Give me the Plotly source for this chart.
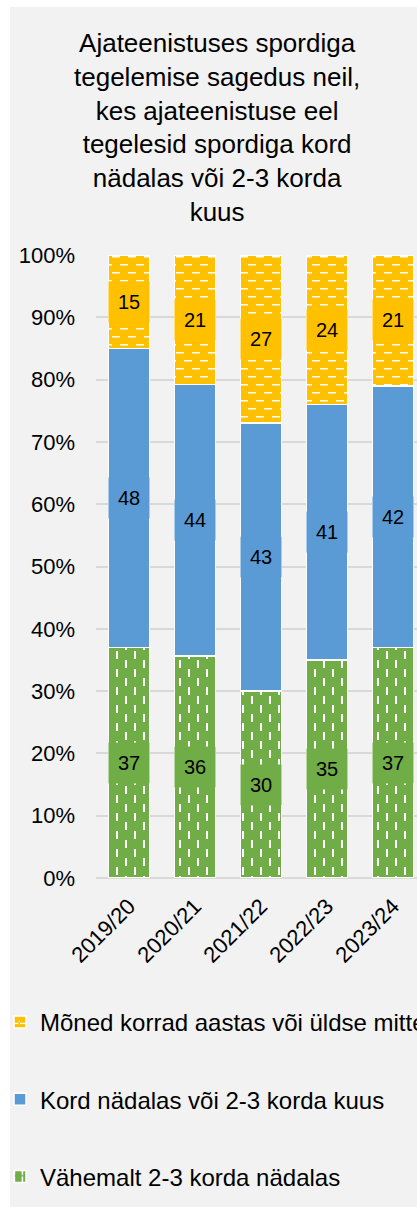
import plotly.graph_objects as go

# ---- data ----
categories = ["2019/20", "2020/21", "2021/22", "2022/23", "2023/24"]
series_names = [
    "Vähemalt 2-3 korda nädalas",
    "Kord nädalas või 2-3 korda kuus",
    "Mõned korrad aastas või üldse mitte",
]
green_vals = [37, 36, 30, 35, 37]
blue_vals = [48, 44, 43, 41, 42]
yellow_vals = [15, 21, 27, 24, 21]
y_ticks = [0, 10, 20, 30, 40, 50, 60, 70, 80, 90, 100]
y_tick_labels = [f"{t}%" for t in y_ticks]

title_text = ("Ajateenistuses spordiga<br>tegelemise sagedus neil,<br>kes ajateenistuse eel"
              "<br>tegelesid spordiga kord<br>nädalas või 2-3 korda<br>kuus")

# ---- style ----
GREEN = "#70AD47"
BLUE = "#5B9BD5"
YELLOW = "#FFC000"
BG = "#F2F2F2"
GRID = "#D9D9D9"
FONT = "Liberation Sans, Arial, sans-serif"

W, H = 417, 1207
ML, MR, MT, MB = 96, 0, 255, 329
PW = W - ML - MR
PH = H - MT - MB


def xp(px):
    return (px - ML) / PW


def yp(py):
    return (H - MB - py) / PH


green_pattern = dict(path="M2,0H4V8H2Z M11,9H13V17H11Z", size=18,
                     fillmode="overlay", fgcolor="white", fgopacity=1)
yellow_pattern = dict(path="M0,1H8V2.6H0Z M8,9H16V10.6H8Z", size=16,
                      fillmode="overlay", fgcolor="white", fgopacity=1)

all_vals = [green_vals, blue_vals, yellow_vals]
colors = [GREEN, BLUE, YELLOW]
patterns = [green_pattern, None, yellow_pattern]
ranks = [3, 2, 1]

fig = go.Figure()
for name, vals, col, pat, rk in zip(series_names, all_vals, colors, patterns, ranks):
    marker = dict(color=col, line=dict(color="white", width=1.5))
    if pat is not None:
        marker["pattern"] = pat
    fig.add_trace(go.Bar(
        x=categories, y=vals, name=name, marker=marker,
        legendgroup=name, legendrank=rk, hoverinfo="skip",
    ))

# data labels with series-coloured background boxes
totals = [sum(t) for t in zip(*all_vals)]
annotations = []
cum = [0] * len(categories)
for vals, col in zip(all_vals, colors):
    for j, v in enumerate(vals):
        mid = (cum[j] + v / 2) / totals[j] * 100
        annotations.append(dict(
            x=categories[j], y=mid, xref="x", yref="y", text=str(v),
            showarrow=False, bgcolor=col, width=38, height=38,
            font=dict(size=20, color="black", family=FONT),
        ))
        cum[j] += v

annotations.append(dict(
    x=xp(217), y=yp(26), xref="paper", yref="paper", text=title_text,
    showarrow=False, xanchor="center", yanchor="top", align="center",
    font=dict(size=26, color="black", family=FONT),
))

fig.update_layout(
    width=W, height=H,
    margin=dict(l=ML, r=MR, t=MT, b=MB, pad=0),
    paper_bgcolor="white",
    plot_bgcolor="rgba(0,0,0,0)",
    barmode="stack",
    barnorm="percent",
    bargap=0.38,
    font=dict(family=FONT, color="black"),
    showlegend=True,
    legend=dict(
        x=xp(1), y=yp(1000), xanchor="left", yanchor="top",
        traceorder="grouped", tracegroupgap=43,
        font=dict(size=24, family=FONT, color="black"),
        bgcolor="rgba(0,0,0,0)",
    ),
    xaxis=dict(
        range=[-0.5, -0.5 + PW / 66.0], tickangle=-45,
        tickfont=dict(size=22, family=FONT, color="black"),
        showgrid=False, showline=False, zeroline=False, ticks="",
        ticklabelstandoff=10,
    ),
    yaxis=dict(
        range=[0, 100], tickvals=y_ticks, ticktext=y_tick_labels,
        tickfont=dict(size=22, family=FONT, color="black"),
        showgrid=True, gridcolor=GRID, gridwidth=1.5,
        zeroline=True, zerolinecolor=GRID, zerolinewidth=1.5,
        showline=False, ticks="", ticklabelstandoff=20,
    ),
    shapes=[dict(type="rect", xref="paper", yref="paper",
                 x0=xp(10), x1=xp(W + 5), y0=yp(H + 5), y1=yp(7),
                 fillcolor=BG, line=dict(width=0), layer="below")],
    annotations=annotations,
)

fig.write_html(
    "out.html",
    config={"displayModeBar": False},
    post_script="document.body.style.margin='0';document.body.style.overflow='hidden';",
)
